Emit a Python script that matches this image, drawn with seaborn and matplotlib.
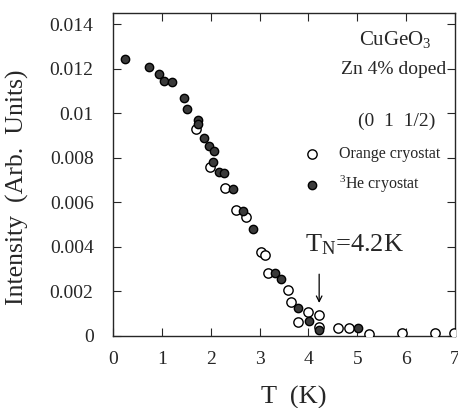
import matplotlib
matplotlib.use("Agg")
import matplotlib.pyplot as plt
import seaborn as sns
import pandas as pd

# Data (T in K, intensity in arb. units)
he_T = [0.25, 0.74, 0.95, 1.05, 1.20, 1.45, 1.52, 1.74, 1.75, 1.87, 1.96, 2.06,
        2.05, 2.18, 2.27, 2.46, 2.66, 2.86, 3.31, 3.44, 3.78, 4.01, 4.22, 5.02]
he_I = [0.01244, 0.01208, 0.01176, 0.01146, 0.01139, 0.01067, 0.01020, 0.00970,
        0.00950, 0.00889, 0.00855, 0.00830, 0.00783, 0.00738, 0.00731, 0.00659,
        0.00563, 0.00482, 0.00282, 0.00256, 0.00124, 0.00069, 0.00027, 0.00037]

orange_T = [1.70, 1.98, 2.29, 2.51, 2.73, 3.03, 3.12, 3.17, 3.58, 3.65, 3.99,
            4.22, 3.78, 4.22, 4.60, 4.84, 5.24, 5.92, 6.60, 6.97]
orange_I = [0.00930, 0.00760, 0.00664, 0.00566, 0.00533, 0.00379, 0.00365,
            0.00282, 0.00207, 0.00154, 0.00109, 0.00094, 0.00064, 0.00042,
            0.00035, 0.00035, 0.00009, 0.00012, 0.00012, 0.00012]

x_ticks = [0, 1, 2, 3, 4, 5, 6, 7]
y_ticks = [0, 0.002, 0.004, 0.006, 0.008, 0.010, 0.012, 0.014]
y_tick_labels = ["0", "0.002", "0.004", "0.006", "0.008", "0.01", "0.012", "0.014"]

df_orange = pd.DataFrame({"T": orange_T, "I": orange_I})
df_he = pd.DataFrame({"T": he_T, "I": he_I})

sns.set_style("ticks")
plt.rcParams["font.family"] = ["Liberation Serif", "DejaVu Serif"]
plt.rcParams["mathtext.fontset"] = "custom"
plt.rcParams["mathtext.rm"] = "Liberation Serif"
plt.rcParams["mathtext.it"] = "Liberation Serif"

fig = plt.figure(figsize=(4.58, 4.08), dpi=100)
ax = fig.add_axes([0.2467, 0.1765, 0.7467, 0.7915])

sns.scatterplot(data=df_orange, x="T", y="I", ax=ax, marker="o", s=45,
                facecolor="white", edgecolor="black", linewidth=1.0,
                label="Orange cryostat", zorder=3)
sns.scatterplot(data=df_he, x="T", y="I", ax=ax, marker="o", s=36,
                facecolor="#3a3a3a", edgecolor="black", linewidth=1.0,
                label="$^3$He cryostat", zorder=4)

ax.set_xlim(0, 7)
ax.set_ylim(0, 0.0145)
ax.set_xticks(x_ticks)
ax.set_yticks(y_ticks)
ax.set_yticklabels(y_tick_labels)
ax.tick_params(direction="in", top=True, right=True, labelsize=14, length=6,
               width=0.8)
ax.tick_params(axis="x", pad=11)
ax.tick_params(axis="y", pad=14)
for sp in ax.spines.values():
    sp.set_linewidth(1.0)

ax.set_xlabel("T  (K)", fontsize=19)
ax.xaxis.set_label_coords(0.53, -0.155)
ax.set_ylabel("Intensity  (Arb.  Units)", fontsize=18.5)
ax.yaxis.set_label_coords(-0.245, 0.46)

ax.text(5.78, 0.0133, "CuGeO$_3$", fontsize=15, ha="center", va="center")
ax.text(5.74, 0.01196, "Zn 4% doped", fontsize=14, ha="center", va="center")
ax.text(5.80, 0.00962, "(0  1  1/2)", fontsize=14, ha="center", va="center")

ax.text(3.92, 0.00409, "T$_\\mathrm{N}$=4.2K", fontsize=19, ha="left", va="center")
ax.annotate("", xy=(4.22, 0.00136), xytext=(4.22, 0.00290),
            arrowprops=dict(arrowstyle="->", color="black", lw=0.9))

ax.legend(loc="center left", bbox_to_anchor=(0.535, 0.512), frameon=False,
          fontsize=11.5, handletextpad=1.2, borderpad=0, labelspacing=0.75,
          handlelength=1.0)

fig.savefig("out.png", dpi=100)
